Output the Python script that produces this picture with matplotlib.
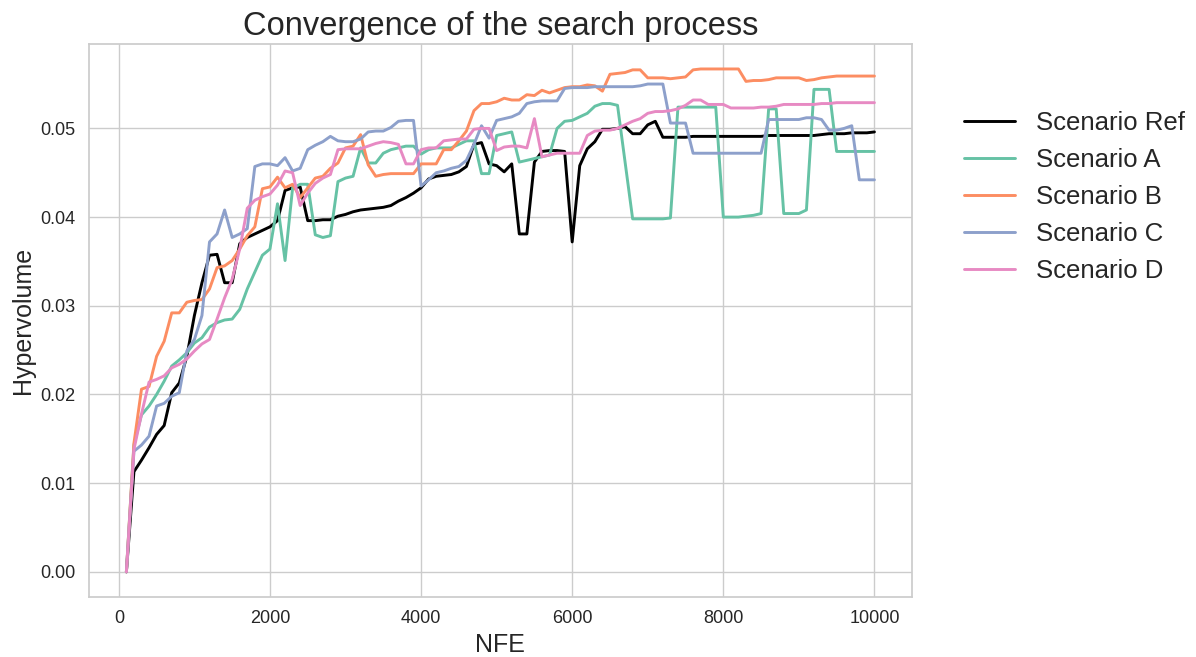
import numpy as np
import matplotlib
matplotlib.use("Agg")
import matplotlib.pyplot as plt
import seaborn as sns

# ------------- DATA -------------
nfe = np.arange(100, 10001, 100)

ref = [0.0, 0.0113, 0.0126, 0.0140, 0.0155, 0.0165, 0.0202, 0.0213, 0.0243, 0.0289,
       0.0326, 0.0357, 0.0358, 0.0326, 0.0326, 0.0370, 0.0377, 0.0381, 0.0385, 0.0389,
       0.0396, 0.0430, 0.0433, 0.0434, 0.0396, 0.0396, 0.0397, 0.0397, 0.0401, 0.0403,
       0.0406, 0.0408, 0.0409, 0.0410, 0.0411, 0.0413, 0.0418, 0.0422, 0.0427, 0.0433,
       0.0443, 0.0446, 0.0447, 0.0448, 0.0451, 0.0457, 0.0482, 0.0484, 0.0460, 0.0458,
       0.0451, 0.0460, 0.0381, 0.0381, 0.0462, 0.0474, 0.0475, 0.0475, 0.0474, 0.0372,
       0.0458, 0.0477, 0.0485, 0.0499, 0.0499, 0.0500, 0.0502, 0.0494, 0.0494, 0.0504,
       0.0508, 0.0490, 0.0490, 0.0490, 0.0490, 0.0491, 0.0491, 0.0491, 0.0491, 0.0491,
       0.0491, 0.0491, 0.0491, 0.0491, 0.0491, 0.0492, 0.0492, 0.0492, 0.0492, 0.0492,
       0.0492, 0.0492, 0.0493, 0.0494, 0.0494, 0.0494, 0.0495, 0.0495, 0.0495, 0.0496]

scen_a = [0.0, 0.0143, 0.0177, 0.0187, 0.0200, 0.0215, 0.0232, 0.0239, 0.0247, 0.0258,
          0.0264, 0.0276, 0.0281, 0.0284, 0.0285, 0.0296, 0.0319, 0.0338, 0.0357, 0.0364,
          0.0415, 0.0351, 0.0433, 0.0437, 0.0437, 0.0380, 0.0377, 0.0379, 0.0440, 0.0444,
          0.0446, 0.0478, 0.0461, 0.0461, 0.0472, 0.0476, 0.0478, 0.0480, 0.0480, 0.0471,
          0.0476, 0.0478, 0.0478, 0.0478, 0.0482, 0.0486, 0.0486, 0.0449, 0.0449, 0.0492,
          0.0494, 0.0496, 0.0462, 0.0464, 0.0466, 0.0468, 0.0470, 0.0500, 0.0508, 0.0509,
          0.0513, 0.0517, 0.0525, 0.0528, 0.0528, 0.0526, 0.0462, 0.0398, 0.0398, 0.0398,
          0.0398, 0.0398, 0.0399, 0.0524, 0.0524, 0.0524, 0.0524, 0.0524, 0.0524, 0.0400,
          0.0400, 0.0400, 0.0401, 0.0402, 0.0404, 0.0522, 0.0522, 0.0404, 0.0404, 0.0404,
          0.0408, 0.0544, 0.0544, 0.0544, 0.0474, 0.0474, 0.0474, 0.0474, 0.0474, 0.0474]

scen_b = [0.0, 0.0145, 0.0206, 0.0209, 0.0243, 0.0260, 0.0292, 0.0292, 0.0304, 0.0306,
          0.0307, 0.0319, 0.0343, 0.0345, 0.0351, 0.0364, 0.0379, 0.0389, 0.0432, 0.0434,
          0.0445, 0.0433, 0.0437, 0.0422, 0.0433, 0.0444, 0.0446, 0.0455, 0.0461, 0.0478,
          0.0480, 0.0493, 0.0459, 0.0446, 0.0448, 0.0449, 0.0449, 0.0449, 0.0449, 0.0460,
          0.0460, 0.0460, 0.0476, 0.0476, 0.0486, 0.0497, 0.0520, 0.0528, 0.0528, 0.0530,
          0.0534, 0.0532, 0.0532, 0.0538, 0.0537, 0.0543, 0.0540, 0.0543, 0.0546, 0.0547,
          0.0547, 0.0549, 0.0548, 0.0542, 0.0561, 0.0562, 0.0563, 0.0566, 0.0566, 0.0557,
          0.0557, 0.0557, 0.0556, 0.0557, 0.0558, 0.0566, 0.0567, 0.0567, 0.0567, 0.0567,
          0.0567, 0.0567, 0.0553, 0.0554, 0.0554, 0.0555, 0.0557, 0.0557, 0.0557, 0.0557,
          0.0554, 0.0555, 0.0557, 0.0558, 0.0559, 0.0559, 0.0559, 0.0559, 0.0559, 0.0559]

scen_c = [0.0, 0.0136, 0.0143, 0.0153, 0.0187, 0.0190, 0.0198, 0.0202, 0.0249, 0.0262,
          0.0289, 0.0372, 0.0381, 0.0408, 0.0377, 0.0381, 0.0387, 0.0457, 0.0460, 0.0460,
          0.0458, 0.0467, 0.0452, 0.0455, 0.0476, 0.0481, 0.0485, 0.0491, 0.0486, 0.0485,
          0.0485, 0.0488, 0.0496, 0.0497, 0.0497, 0.0501, 0.0508, 0.0509, 0.0509, 0.0435,
          0.0442, 0.0450, 0.0452, 0.0455, 0.0457, 0.0464, 0.0482, 0.0503, 0.0489, 0.0509,
          0.0511, 0.0513, 0.0517, 0.0528, 0.0530, 0.0531, 0.0531, 0.0531, 0.0545, 0.0546,
          0.0546, 0.0546, 0.0547, 0.0547, 0.0547, 0.0547, 0.0547, 0.0547, 0.0548, 0.0550,
          0.0550, 0.0550, 0.0506, 0.0506, 0.0506, 0.0472, 0.0472, 0.0472, 0.0472, 0.0472,
          0.0472, 0.0472, 0.0472, 0.0472, 0.0472, 0.0510, 0.0510, 0.0510, 0.0510, 0.0510,
          0.0512, 0.0512, 0.0510, 0.0498, 0.0498, 0.0500, 0.0503, 0.0442, 0.0442, 0.0442]

scen_d = [0.0, 0.0138, 0.0178, 0.0214, 0.0217, 0.0221, 0.0230, 0.0234, 0.0240, 0.0249,
          0.0257, 0.0262, 0.0285, 0.0309, 0.0330, 0.0364, 0.0410, 0.0419, 0.0423, 0.0426,
          0.0436, 0.0452, 0.0450, 0.0413, 0.0427, 0.0438, 0.0444, 0.0448, 0.0476, 0.0477,
          0.0477, 0.0477, 0.0480, 0.0483, 0.0485, 0.0484, 0.0482, 0.0460, 0.0460, 0.0476,
          0.0478, 0.0478, 0.0486, 0.0487, 0.0488, 0.0488, 0.0499, 0.0500, 0.0500, 0.0475,
          0.0479, 0.0480, 0.0480, 0.0478, 0.0511, 0.0468, 0.0470, 0.0472, 0.0472, 0.0472,
          0.0472, 0.0492, 0.0497, 0.0498, 0.0498, 0.0500, 0.0504, 0.0508, 0.0511, 0.0517,
          0.0519, 0.0519, 0.0520, 0.0522, 0.0526, 0.0532, 0.0532, 0.0527, 0.0527, 0.0527,
          0.0523, 0.0523, 0.0523, 0.0523, 0.0524, 0.0524, 0.0525, 0.0527, 0.0527, 0.0527,
          0.0527, 0.0527, 0.0528, 0.0528, 0.0529, 0.0529, 0.0529, 0.0529, 0.0529, 0.0529]

labels = ["Scenario Ref", "Scenario A", "Scenario B", "Scenario C", "Scenario D"]

# ------------- STYLE -------------
sns.set_theme(style="whitegrid")
plt.rcParams['font.family'] = ['Liberation Sans', 'DejaVu Sans']
set2 = sns.color_palette("Set2")
colors = ["black", set2[0], set2[1], set2[2], set2[3]]

# ------------- PLOT -------------
fig = plt.figure(figsize=(11.96, 6.57), dpi=100)
ax = fig.add_axes([0.0744, 0.0913, 0.688, 0.842])

for series, lab, col in zip([ref, scen_a, scen_b, scen_c, scen_d], labels, colors):
    ax.plot(nfe, series, color=col, lw=2.1, label=lab)

ax.set_title("Convergence of the search process", fontsize=23.5, color=".15")
ax.set_xlabel("NFE", fontsize=18, color=".15")
ax.set_ylabel("Hypervolume", fontsize=18, color=".15")
ax.set_xticks([0, 2000, 4000, 6000, 8000, 10000])
ax.tick_params(labelsize=13)

ax.legend(loc="upper left", bbox_to_anchor=(1.035, 0.92), frameon=False,
          fontsize=18.5, labelspacing=0.5)

fig.savefig("out.png", dpi=100)
